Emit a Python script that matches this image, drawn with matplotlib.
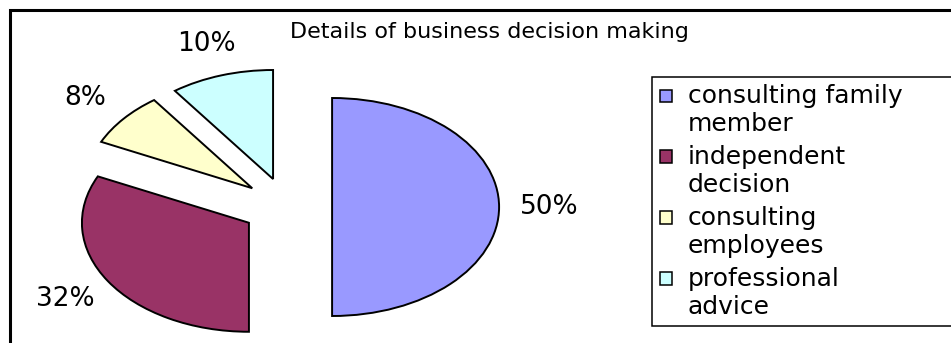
import matplotlib
matplotlib.use('Agg')
import matplotlib.pyplot as plt
from matplotlib.patches import Rectangle, Wedge
from matplotlib.legend_handler import HandlerPatch

# Data
categories = ['consulting family\nmember', 'independent\ndecision',
              'consulting\nemployees', 'professional\nadvice']
shares = [50, 32, 8, 10]
colors = ['#9999FF', '#993366', '#FFFFCC', '#CCFFFF']
title = 'Details of business decision making'

W, H = 951, 343
plt.rcParams['font.family'] = ['DejaVu Sans']


def px_box(cx, cy, rx, ry, xlim, ylim):
    """Axes rect (figure fraction) so that data unit = rx/ry pixels around (cx, cy)."""
    left = cx + xlim[0] * rx
    right = cx + xlim[1] * rx
    top = cy - ylim[1] * ry
    bottom = cy - ylim[0] * ry
    return [left / W, 1 - bottom / H, (right - left) / W, (bottom - top) / H]


def first_line_patch(legend, orig_handle, xdescent, ydescent, width, height, fontsize):
    # Put the colour box next to the first line of the label.
    return Rectangle((-xdescent, -ydescent + 0.6 * fontsize), width, height)


def main():
    fig = plt.figure(figsize=(W / 100, H / 100), dpi=100)

    xlim = (-1.7, 1.7)
    ylim = (-1.25, 1.4)
    ax = fig.add_axes(px_box(287, 207, 167, 109, xlim, ylim))

    wedges, texts, autotexts = ax.pie(
        shares,
        colors=colors,
        startangle=90,
        counterclock=False,
        explode=[0.27] * len(shares),
        autopct='%1.0f%%',
        pctdistance=1.3,
        wedgeprops=dict(edgecolor='black', linewidth=1.4),
        textprops=dict(fontsize=19, color='black'))

    # The original pie is stretched sideways.
    ax.set_aspect('auto')
    ax.set_xlim(*xlim)
    ax.set_ylim(*ylim)
    ax.axis('off')

    fig.text(489 / W, 1 - 32 / H, title, ha='center', va='center', fontsize=16)

    leg = fig.legend(
        wedges, categories,
        loc='upper left',
        bbox_to_anchor=(652 / W, 1 - 326 / H, 310 / W, 249 / H),
        mode='expand',
        fontsize=18,
        frameon=True,
        fancybox=False,
        framealpha=1,
        edgecolor='black',
        borderpad=0.3,
        borderaxespad=0,
        handlelength=0.48,
        handleheight=0.4,
        handletextpad=0.65,
        labelspacing=0.36,
        handler_map={Wedge: HandlerPatch(patch_func=first_line_patch)})
    leg.get_frame().set_linewidth(1.1)
    for h in leg.legend_handles:
        h.set_edgecolor('black')
        h.set_linewidth(1.1)

    # Outer chart border (runs off the right and bottom edges).
    fig.patches.append(Rectangle((10 / W, -0.2), 1.2, 1.2 - 10 / H,
                                 transform=fig.transFigure, fill=False,
                                 edgecolor='black', linewidth=2.2))

    fig.savefig('out.png', dpi=100)


if __name__ == '__main__':
    main()
